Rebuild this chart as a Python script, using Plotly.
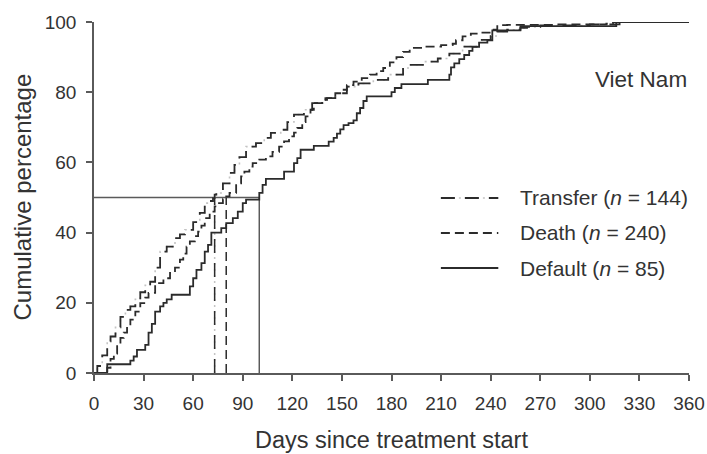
import plotly.graph_objects as go

# ---- data ----
transfer_days = [0, 2, 5, 8, 10, 13, 16, 19, 22, 25, 28, 31, 34, 37, 40, 44, 49, 52, 55, 60,
                 64, 67, 70, 72, 73, 74, 78, 82, 85, 88, 92, 98, 103, 107, 113, 117, 121, 127, 132, 140,
                 146, 153, 160, 169, 178, 187, 191, 200, 208, 215, 223, 233, 240, 244, 250, 258, 262, 270, 300, 318, 360]
transfer_pct = [0, 2, 5, 9, 10.4, 13, 16, 18, 19, 21, 23, 25, 26, 30, 34.6, 36, 38.4, 39.5, 40.8, 43,
                45.6, 48.4, 49, 49.8, 50.8, 51.3, 54, 57, 59.3, 61.5, 64.5, 65.5, 67, 68.4, 69.3, 71.5, 73.6, 75, 76.9, 78.3,
                79.7, 81.6, 82.5, 83.5, 85, 86.9, 87.8, 88.7, 89.6, 91, 93, 94.9, 96, 97.3, 97.8, 98.3, 98.6, 99, 99.3, 100, 100]

death_days = [0, 7, 8, 10, 12, 14, 16, 18, 20, 22, 25, 28, 31, 33, 37, 42, 46, 49, 52, 54,
              56, 58, 61, 63, 65, 67, 70, 73, 75, 78, 80, 82, 86, 89, 91, 94, 96, 100, 104, 108,
              112, 115, 118, 121, 123, 126, 128, 131, 133, 138, 141, 146, 149, 153, 157, 162, 167, 171, 175, 179,
              183, 187, 191, 200, 210, 217, 219, 223, 228, 234, 240, 244, 250, 280, 310, 314, 360]
death_pct = [0, 0, 1.5, 4, 5.5, 8, 10, 11.5, 13.5, 15.2, 17.5, 19.9, 21.5, 22.8, 25.6, 27, 28.5, 30, 32.3, 34,
             36, 37.5, 39, 40.3, 42, 44.1, 46, 47.5, 48.4, 49.5, 50.3, 51.3, 54, 56, 57.4, 58.8, 59.8, 60.8, 61.7, 63,
             64.5, 66, 67.4, 68.5, 69.8, 71.5, 73.1, 75, 76.9, 77.8, 78.3, 79.7, 80.7, 82, 83, 84, 85, 86, 86.9, 88.5,
             90, 91.5, 92.6, 93, 93.4, 93.8, 94.8, 95.9, 96.7, 97, 97.8, 99.1, 99.2, 99.3, 99.5, 100, 100]

default_days = [0, 8, 22, 24, 26, 31, 33, 35, 37, 40, 42, 44, 47, 58, 60, 62, 65, 67, 69, 71,
                77, 80, 84, 87, 90, 92, 100, 102, 104, 115, 121, 123, 125, 133, 142, 145, 147, 149, 151, 154,
                157, 159, 161, 163, 165, 180, 182, 186, 202, 215, 216, 218, 221, 224, 227, 229, 233, 238, 241, 258,
                316, 360]
default_pct = [0, 2.5, 3.5, 4.7, 6.6, 8, 11.5, 14, 17.5, 19, 20, 21, 22.3, 24.7, 27, 29.4, 31.3, 34.6, 36.5, 40,
               41.3, 42.7, 44.1, 46, 48.4, 49.4, 51.3, 53.6, 55.3, 57.4, 59.8, 61.2, 63.6, 64.7, 65.9, 67, 68.2, 69.4, 70.6, 71.2,
               72, 74, 75.5, 77.5, 78.8, 80, 81.2, 82.3, 83.5, 85, 87.1, 88.2, 89.4, 90.6, 91.8, 92.9, 94.1, 94.8, 97.6, 98.8,
               100, 100]

median_days = {"Transfer": 73, "Death": 80, "Default": 100}
median_level = 50
legend_labels = ["Transfer (<i>n</i> = 144)", "Death (<i>n</i> = 240)", "Default (<i>n</i> = 85)"]
x_ticks = list(range(0, 361, 30))
y_ticks = list(range(0, 101, 20))

# ---- styles ----
DARK = "#2b2b2b"
DOTC = "#c4c4c4"
AXC = "#5a5a5a"
TXT = "#333333"
FONT = "Liberation Sans, Arial, sans-serif"
TR_DASH = "14px,10px"
TR_DOT = "2px,4px"
DE_DASH = "9px,5px"

fig = go.Figure()

# median reference lines
fig.add_trace(go.Scatter(x=[0, median_days["Default"]], y=[median_level, median_level], mode="lines",
                         line=dict(color=AXC, width=1.5), showlegend=False, hoverinfo="skip"))
fig.add_trace(go.Scatter(x=[median_days["Transfer"]] * 2, y=[0, median_level], mode="lines",
                         line=dict(color=DOTC, width=1.5, dash=TR_DOT), showlegend=False, hoverinfo="skip"))
fig.add_trace(go.Scatter(x=[median_days["Transfer"]] * 2, y=[0, median_level], mode="lines",
                         line=dict(color=DARK, width=1.5, dash=TR_DASH), showlegend=False, hoverinfo="skip"))
fig.add_trace(go.Scatter(x=[median_days["Death"]] * 2, y=[0, median_level], mode="lines",
                         line=dict(color=DARK, width=1.5, dash=DE_DASH), showlegend=False, hoverinfo="skip"))
fig.add_trace(go.Scatter(x=[median_days["Default"]] * 2, y=[0, median_level], mode="lines",
                         line=dict(color=AXC, width=1.5), showlegend=False, hoverinfo="skip"))

# curves
fig.add_trace(go.Scatter(x=transfer_days, y=transfer_pct, mode="lines", name="Transfer dots",
                         line=dict(shape="hv", color=DOTC, width=1.6, dash=TR_DOT), showlegend=False))
fig.add_trace(go.Scatter(x=transfer_days, y=transfer_pct, mode="lines", name="Transfer",
                         line=dict(shape="hv", color=DARK, width=1.8, dash=TR_DASH), showlegend=False))
fig.add_trace(go.Scatter(x=death_days, y=death_pct, mode="lines", name="Death",
                         line=dict(shape="hv", color=DARK, width=1.8, dash=DE_DASH), showlegend=False))
fig.add_trace(go.Scatter(x=default_days, y=default_pct, mode="lines", name="Default",
                         line=dict(shape="hv", color=DARK, width=1.8), showlegend=False))

# manual legend (line samples + labels)
leg_y = [0.4986, 0.3989, 0.2991]
lx0, lx1, tx = 0.583, 0.6795, 0.7126
shapes = [
    dict(type="line", xref="paper", yref="paper", x0=lx0, x1=lx1, y0=leg_y[0], y1=leg_y[0],
         line=dict(color=DOTC, width=1.6, dash=TR_DOT)),
    dict(type="line", xref="paper", yref="paper", x0=lx0, x1=lx1, y0=leg_y[0], y1=leg_y[0],
         line=dict(color=DARK, width=1.8, dash=TR_DASH)),
    dict(type="line", xref="paper", yref="paper", x0=lx0, x1=lx1, y0=leg_y[1], y1=leg_y[1],
         line=dict(color=DARK, width=1.8, dash=DE_DASH)),
    dict(type="line", xref="paper", yref="paper", x0=lx0, x1=lx1, y0=leg_y[2], y1=leg_y[2],
         line=dict(color=DARK, width=1.8)),
]
annotations = []
for lab, yy in zip(legend_labels, leg_y):
    annotations.append(dict(text=lab, xref="paper", yref="paper", x=tx, y=yy, xanchor="left",
                            yanchor="middle", showarrow=False, font=dict(family=FONT, size=21, color=TXT)))
annotations.append(dict(text="Viet Nam", xref="paper", yref="paper", x=1.0, y=0.835, xanchor="right",
                        yanchor="middle", showarrow=False, font=dict(family=FONT, size=22.5, color=TXT)))
annotations.append(dict(text="Days since treatment start", xref="paper", yref="paper", x=0.5, y=0,
                        yanchor="middle", yshift=-67, showarrow=False,
                        font=dict(family=FONT, size=23.5, color=TXT)))
annotations.append(dict(text="Cumulative percentage", xref="paper", yref="paper", x=0, y=0.5,
                        xanchor="center", xshift=-72, textangle=-90, showarrow=False,
                        font=dict(family=FONT, size=24, color=TXT)))

fig.update_layout(
    width=707, height=454,
    margin=dict(l=94, r=18, t=22, b=81, autoexpand=False),
    paper_bgcolor="white", plot_bgcolor="white",
    font=dict(family=FONT, color=TXT, size=19),
    shapes=shapes, annotations=annotations,
    showlegend=False,
)
fig.update_xaxes(range=[0, 360], tickvals=x_ticks, ticks="outside", ticklen=6, tickwidth=1.5,
                 tickcolor=AXC, showline=True, linecolor=AXC, linewidth=1.5, showgrid=False,
                 zeroline=False, tickfont=dict(size=19, color=TXT), ticklabelstandoff=6,
                 automargin=False)
fig.update_yaxes(range=[0, 100], tickvals=y_ticks, ticks="outside", ticklen=6, tickwidth=1.5,
                 tickcolor=AXC, showline=True, linecolor=AXC, linewidth=1.5, showgrid=False,
                 zeroline=False, tickfont=dict(size=19, color=TXT), ticklabelstandoff=6,
                 automargin=False)

# remove the page's default 8px body margin so the 707x454 figure fills the window exactly
fig.write_html("out.html",
               config={"displayModeBar": False},
               post_script="document.body.style.margin='0';document.body.style.overflow='hidden';")
